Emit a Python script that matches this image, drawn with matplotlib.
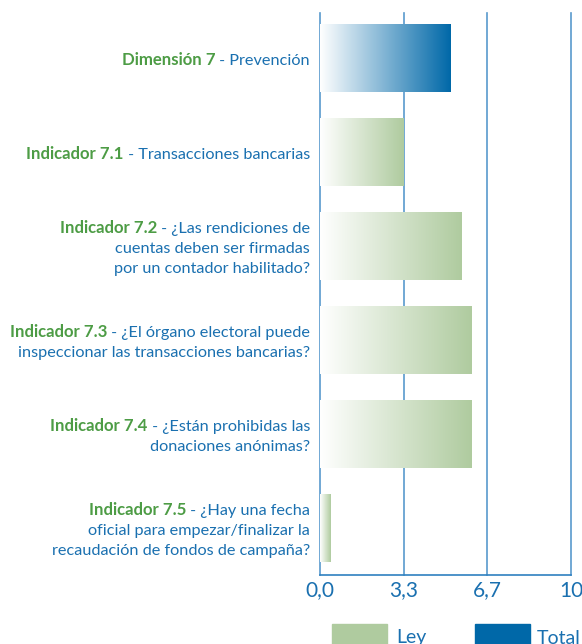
import numpy as np
import matplotlib
matplotlib.use('Agg')
import matplotlib.pyplot as plt
from matplotlib.colors import LinearSegmentedColormap
from matplotlib.patches import Rectangle
from matplotlib.transforms import IdentityTransform

# ---------------- data ----------------
green_parts = ["Dimensión 7", "Indicador 7.1", "Indicador 7.2",
               "Indicador 7.3", "Indicador 7.4", "Indicador 7.5"]
blue_lines = [
    ["Prevención"],
    ["Transacciones bancarias"],
    ["¿Las rendiciones de", "cuentas deben ser firmadas", "por un contador habilitado?"],
    ["¿El órgano electoral puede", "inspeccionar las transacciones bancarias?"],
    ["¿Están prohibidas las", "donaciones anónimas?"],
    ["¿Hay una fecha", "oficial para empezar/finalizar la", "recaudación de fondos de campaña?"],
]
values = [5.2, 3.33, 5.65, 6.05, 6.05, 0.42]
bar_kind = ["Total", "Ley", "Ley", "Ley", "Ley", "Ley"]
tick_values = [0, 3.33, 6.67, 10]
tick_labels = ["0,0", "3,3", "6,7", "10"]
legend_labels = ["Ley", "Total"]

# ---------------- style ----------------
GREEN_TXT = '#4d9c45'
BLUE_TXT = '#1a70b0'
GRID = '#2f80c0'
BAR_COL = {"Ley": '#afcb9f', "Total": '#0068a8'}
FONT = ['Lato', 'DejaVu Sans']
plt.rcParams['font.family'] = FONT

W, H = 582, 644
fig = plt.figure(figsize=(W / 100, H / 100), dpi=100)
ax_left, ax_right, ax_top, ax_bot = 320, 571, 13, 575
ax = fig.add_axes([ax_left / W, (H - ax_bot) / H, (ax_right - ax_left) / W, (ax_bot - ax_top) / H])

n = len(values)
ypos = np.arange(n)
bh = 68 / 94
bars = ax.barh(ypos, values, height=bh, color='none', edgecolor='none', zorder=3)

for b, v, y, k in zip(bars, values, ypos, bar_kind):
    cmap = LinearSegmentedColormap.from_list(k, ['#ffffff', BAR_COL[k]])
    grad = np.linspace(0, 1, 256).reshape(1, -1)
    im = ax.imshow(grad, cmap=cmap, extent=(0, v, y + bh / 2, y - bh / 2),
                   aspect='auto', zorder=3, interpolation='bilinear')
    im.set_clip_path(b)

ax.set_xlim(0, 10)
ax.set_ylim(5.5, -0.479)

for tv in tick_values:
    ax.axvline(tv, color=GRID, lw=1.2, alpha=0.8, zorder=2, clip_on=False)

for s in ['top', 'left', 'right']:
    ax.spines[s].set_visible(False)
ax.spines['bottom'].set_color(GRID)
ax.spines['bottom'].set_linewidth(1.2)
ax.set_yticks([])
ax.set_xticks(tick_values, tick_labels)
ax.tick_params(axis='x', length=0, pad=4, labelsize=15, labelcolor=BLUE_TXT)

# ---------------- labels ----------------
fig.canvas.draw()
renderer = fig.canvas.get_renderer()
fs = 11.7
line_sp = 20
x_right = ax.transAxes.transform((0, 0))[0] - 10
cap = fs * 100 / 72 * 0.72
for i, (g, lines) in enumerate(zip(green_parts, blue_lines)):
    yc = ax.transData.transform((0, ypos[i]))[1]
    m = len(lines)
    for j, ln in enumerate(lines):
        ycen = yc + ((m - 1) / 2 - j) * line_sp - 1
        ybase = ycen - cap / 2
        txt = (" - " + ln) if j == 0 else ln
        t = fig.text(x_right, ybase, txt, transform=IdentityTransform(), ha='right',
                     va='baseline', fontsize=fs, color=BLUE_TXT)
        if j == 0:
            bb = t.get_window_extent(renderer=renderer)
            fig.text(bb.x0, ybase, g, transform=IdentityTransform(), ha='right',
                     va='baseline', fontsize=fs + 0.4, color=GREEN_TXT, fontweight='bold')

# ---------------- legend ----------------
leg = [(332, 387, 396, BAR_COL["Ley"], legend_labels[0]),
       (475, 530, 537, BAR_COL["Total"], legend_labels[1])]
for x0, x1, xt, c, lab in leg:
    fig.patches.append(Rectangle((x0 / W, 0), (x1 - x0) / W, 20 / H,
                                 transform=fig.transFigure, color=c))
    fig.text(xt / W, 6 / H, lab, ha='left', va='center', fontsize=14, color=BLUE_TXT)

fig.savefig('out.png', dpi=100)
